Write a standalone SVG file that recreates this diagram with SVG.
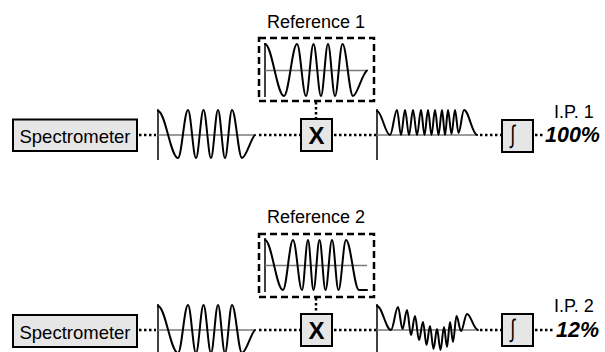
<svg xmlns="http://www.w3.org/2000/svg" width="605" height="352" viewBox="0 0 605 352">
<style>
.box{fill:#e6e6e6;stroke:#000;stroke-width:2}
.wave{fill:none;stroke:#000;stroke-width:2;stroke-linejoin:round;stroke-linecap:round}
.vax{stroke:#000;stroke-width:1.5}
.hax{stroke:#7a7a7a;stroke-width:1.5}
.dot{fill:none;stroke:#000;stroke-width:2.5;stroke-dasharray:2.5 2.5}
.dash{fill:none;stroke:#000;stroke-width:2.5;stroke-dasharray:7 4}
.lbl{font-family:"Liberation Sans",Arial,sans-serif;fill:#000}
.int{font-family:"Liberation Sans",Arial,sans-serif;font-size:25px;fill:#000}
.pct{font-family:"Liberation Sans",Arial,sans-serif;font-weight:bold;font-style:italic;font-size:21.5px;fill:#000}
</style>
<defs>
<path id="sig1" d="M158,111 C165.3,111 170.7,158 178,158 C181.6,158 184.4,110 188,110 C190.9,110 193.1,158 196,158 C198.7,158 200.8,110 203.5,110 C206.2,110 208.3,158 211,158 C213.5,158 215.5,110 218,110 C220.5,110 222.5,158 225,158 C227.5,158 229.5,110 232,110 C235.6,110 238.4,158 242,158 C246,158 251,138 255,135"/>
</defs>

<!-- Row 1 -->
<g id="spectrometer1">
<rect class="box" x="13" y="119.5" width="124" height="31.5"/>
<text class="lbl" x="75" y="142.5" font-size="18.5" text-anchor="middle">Spectrometer</text>
</g>
<g id="signal1">
<line class="vax" x1="158" y1="109" x2="158" y2="160"/>
<line class="hax" x1="158" y1="135" x2="256" y2="135"/>
<use href="#sig1" class="wave"/>
</g>
<g id="reference1">
<text class="lbl" x="316" y="28" font-size="18" text-anchor="middle">Reference 1</text>
<rect class="dash" x="259" y="38" width="115" height="63"/>
<line class="vax" x1="265" y1="43" x2="265" y2="97"/>
<line class="hax" x1="265" y1="70.5" x2="367" y2="70.5"/>
<path class="wave" d="M265,44 C271.9,44 277.1,96 284,96 C288.7,96 292.3,44 297,44 C300.3,44 302.7,96 306,96 C308.7,96 310.8,44 313.5,44 C316.2,44 318.3,96 321,96 C323.5,96 325.5,44 328,44 C330.5,44 332.5,96 335,96 C337.7,96 339.8,44 342.5,44 C346.3,44 349.2,96 353,96 C357,96 362,74 367,70.5"/>
</g>
<g id="multiply1">
<rect class="box" x="301" y="119" width="31" height="32"/>
<text class="lbl" x="316.5" y="143.5" font-size="24" font-weight="bold" text-anchor="middle">X</text>
</g>
<g id="product1">
<line class="vax" x1="377" y1="109" x2="377" y2="160"/>
<line class="hax" x1="377" y1="135" x2="478" y2="135"/>
<path class="wave" d="M377,111 C381.7,111 385.3,135 390,135 C392.5,135 394.5,110 397,110 C398.5,110 399.5,135 401,135 C402.5,135 403.5,110 405,110 C406.5,110 407.5,135 409,135 C410.5,135 411.5,110 413,110 C414.5,110 415.5,135 417,135 C418.5,135 419.5,110 421,110 C422.3,110 423.2,135 424.5,135 C425.8,135 426.7,110 428,110 C429.3,110 430.2,135 431.5,135 C432.8,135 433.7,110 435,110 C436.3,110 437.2,135 438.5,135 C439.8,135 440.7,110 442,110 C443.1,110 443.9,135 445,135 C446.1,135 446.9,110 448,110 C449.3,110 450.2,134 451.5,134 C452.8,134 453.7,110 455,110 C456.3,110 457.2,133 458.5,133 C460.5,133 462,110 464,110 C468.7,110 472,134 477,135"/>
</g>
<g id="integrate1">
<rect class="box" x="502" y="120" width="31" height="32"/>
<text class="int" transform="translate(513,143) scale(0.7,1)" text-anchor="middle">∫</text>
</g>
<g id="result1">
<text class="lbl" x="554" y="117.5" font-size="18">I.P. 1</text>
<text class="pct" x="545" y="141.5">100%</text>
</g>

<!-- Row 2 -->
<g id="spectrometer2">
<rect class="box" x="13" y="315" width="124" height="32"/>
<text class="lbl" x="75" y="338.5" font-size="18.5" text-anchor="middle">Spectrometer</text>
</g>
<g id="signal2">
<line class="vax" x1="158" y1="304" x2="158" y2="356"/>
<line class="hax" x1="158" y1="330" x2="256" y2="330"/>
<use href="#sig1" class="wave" transform="translate(0,195)"/>
</g>
<g id="reference2">
<text class="lbl" x="316" y="223" font-size="18" text-anchor="middle">Reference 2</text>
<rect class="dash" x="259" y="234" width="115" height="63"/>
<line class="vax" x1="265" y1="238" x2="265" y2="292"/>
<line class="hax" x1="265" y1="265.5" x2="367" y2="265.5"/>
<path class="wave" d="M265,240 C271.6,240 276.4,290 283,290 C286.6,290 289.4,240 293,240 C296.3,240 298.7,290 302,290 C304.2,290 305.8,240 308,240 C310,240 311.5,290 313.5,290 C315.7,290 317.3,240 319.5,240 C321.7,240 323.3,290 325.5,290 C327.9,290 329.6,240 332,240 C334.4,240 336.1,290 338.5,290 C341.2,290 343.3,240 346,240 C350.7,240 354.3,290 359,290 L367,290"/>
</g>
<g id="multiply2">
<rect class="box" x="301" y="314" width="31" height="32"/>
<text class="lbl" x="316.5" y="338.5" font-size="24" font-weight="bold" text-anchor="middle">X</text>
</g>
<g id="product2">
<line class="vax" x1="377" y1="304" x2="377" y2="356"/>
<line class="hax" x1="377" y1="330" x2="478" y2="330"/>
<path class="wave" d="M377,306 C382.1,306 385.9,330 391,330 C393.5,330 395.5,307 398,307 C399.6,307 400.9,329 402.5,329 C404.1,329 405.4,310 407,310 C408.5,310 409.5,335 411,335 C412.5,335 413.5,316 415,316 C416.5,316 417.5,340 419,340 C420.5,340 421.5,322 423,322 C424.3,322 425.2,345 426.5,345 C427.8,345 428.7,326 430,326 C431.3,326 432.2,349 433.5,349 C434.8,349 435.7,329 437,329 C438.3,329 439.2,350 440.5,350 C441.8,350 442.7,327 444,327 C445.1,327 445.9,347 447,347 C448.1,347 448.9,322 450,322 C451.1,322 451.9,342 453,342 C454.3,342 455.2,316 456.5,316 C458.1,316 459.4,331 461,331 C463.2,331 464.8,314 467,314 C471,314 473,329 478,330"/>
</g>
<g id="integrate2">
<rect class="box" x="502" y="314" width="31" height="32"/>
<text class="int" transform="translate(513,337) scale(0.7,1)" text-anchor="middle">∫</text>
</g>
<g id="result2">
<text class="lbl" x="554" y="312" font-size="18">I.P. 2</text>
<text class="pct" x="556" y="336.5">12%</text>
</g>

<g id="connectors">
<line class="dot" x1="139" y1="135" x2="156" y2="135"/>
<line class="dot" x1="259" y1="135" x2="300" y2="135"/>
<line class="dot" x1="316" y1="102" x2="316" y2="119"/>
<line class="dot" x1="334" y1="135" x2="376" y2="135"/>
<line class="dot" x1="480" y1="135" x2="501" y2="135"/>
<line class="dot" x1="535" y1="135" x2="545" y2="135"/>
<line class="dot" x1="139" y1="330" x2="156" y2="330"/>
<line class="dot" x1="259" y1="330" x2="300" y2="330"/>
<line class="dot" x1="316" y1="298" x2="316" y2="314"/>
<line class="dot" x1="334" y1="330" x2="376" y2="330"/>
<line class="dot" x1="480" y1="330" x2="501" y2="330"/>
<line class="dot" x1="535" y1="330" x2="555" y2="330"/>
</g>
</svg>
